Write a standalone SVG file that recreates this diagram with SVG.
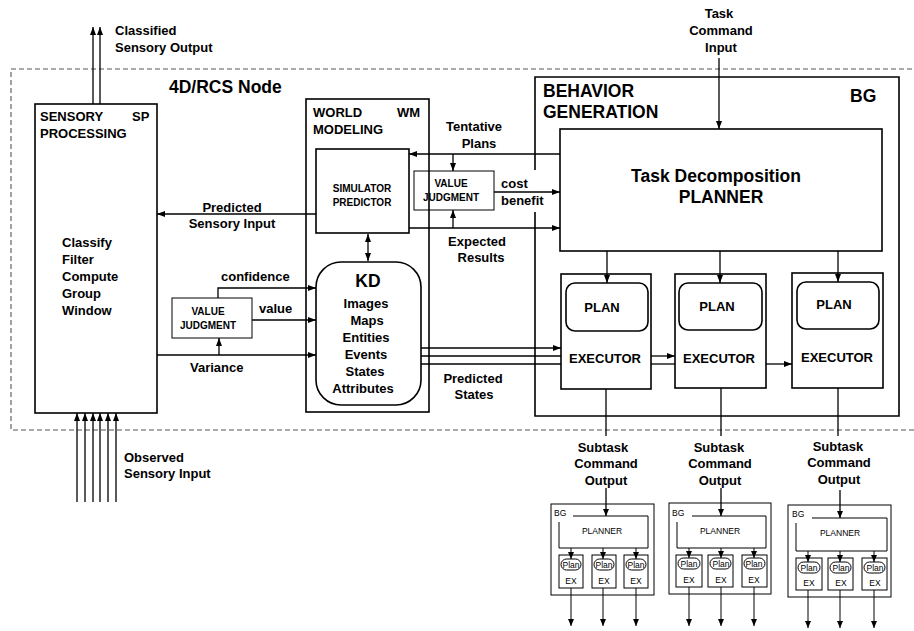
<svg xmlns="http://www.w3.org/2000/svg" width="914" height="631" viewBox="0 0 914 631">
<style>
text{font-family:"Liberation Sans",Arial,sans-serif;fill:#000}
.b13{font-size:13px;font-weight:bold}
.b17{font-size:17.5px;font-weight:bold}
.b10{font-size:10px;font-weight:bold}
.s8{font-size:8.5px}
.m{text-anchor:middle}
.box{fill:none;stroke:#000;stroke-width:1.6}
.sbox{fill:none;stroke:#000;stroke-width:1}
.ln{fill:none;stroke:#000;stroke-width:1.3}
.sl{fill:none;stroke:#000;stroke-width:1}
.dash{fill:none;stroke:#555;stroke-width:1.1;stroke-dasharray:5,3}
</style>
<defs>
<marker id="a" markerWidth="8" markerHeight="6" refX="8" refY="3" orient="auto-start-reverse" markerUnits="userSpaceOnUse"><path d="M0,0 L8,3 L0,6 z" fill="#000"/></marker>
<marker id="as" markerWidth="7" markerHeight="6" refX="7" refY="3" orient="auto" markerUnits="userSpaceOnUse"><path d="M0,0 L7,3 L0,6 z" fill="#000"/></marker>
</defs>
<rect width="914" height="631" fill="#fff"/>

<g id="rcs-node">
<path class="dash" d="M920,69 H11 V430 H920"/>
<text class="b17" x="169" y="93">4D/RCS Node</text>
</g>

<g id="sp">
<rect class="box" x="35" y="104" width="122" height="309"/>
<text class="b13" x="40" y="121">SENSORY</text>
<text class="b13" x="132" y="121">SP</text>
<text class="b13" x="40" y="138">PROCESSING</text>
<text class="b13" x="62" y="247">Classify</text>
<text class="b13" x="62" y="264">Filter</text>
<text class="b13" x="62" y="281">Compute</text>
<text class="b13" x="62" y="298">Group</text>
<text class="b13" x="62" y="315">Window</text>
</g>

<g id="vj1">
<rect class="sbox" x="172" y="298" width="80" height="40"/>
<text class="b10 m" x="208" y="315">VALUE</text>
<text class="b10 m" x="208" y="329">JUDGMENT</text>
</g>

<g id="wm">
<rect class="box" x="306" y="99" width="123" height="313"/>
<text class="b13" x="313" y="117">WORLD</text>
<text class="b13" x="397" y="117">WM</text>
<text class="b13" x="313" y="134">MODELING</text>
</g>

<g id="sim">
<rect class="box" x="316" y="149" width="93" height="84"/>
<text class="b10 m" x="362" y="192">SIMULATOR</text>
<text class="b10 m" x="362" y="206">PREDICTOR</text>
</g>

<g id="kd">
<rect class="box" x="316" y="262" width="105" height="143" rx="25"/>
<text class="b17 m" x="368" y="287">KD</text>
<text class="b13 m" x="366" y="308">Images</text>
<text class="b13 m" x="367" y="325">Maps</text>
<text class="b13 m" x="366" y="342">Entities</text>
<text class="b13 m" x="366" y="359">Events</text>
<text class="b13 m" x="365" y="376">States</text>
<text class="b13 m" x="363" y="393">Attributes</text>
</g>

<g id="vj2">
<rect class="sbox" x="414" y="171" width="80" height="39"/>
<text class="b10 m" x="451" y="187">VALUE</text>
<text class="b10 m" x="451" y="201">JUDGMENT</text>
</g>

<g id="bg">
<path class="box" d="M535,212 V416 H899 V77 H535 V170"/>
<text class="b17" x="543" y="97">BEHAVIOR</text>
<text class="b17" x="543" y="118">GENERATION</text>
<text class="b17" x="850" y="102">BG</text>
</g>

<g id="planner">
<rect class="box" x="560" y="129" width="322" height="122"/>
<text class="b17 m" x="716" y="182">Task Decomposition</text>
<text class="b17 m" x="721" y="203">PLANNER</text>
</g>

<g id="exec1">
<rect class="box" x="561" y="274" width="90" height="115"/>
<rect class="box" x="566" y="283" width="82" height="48" rx="9"/>
<text class="b13 m" x="602" y="312">PLAN</text>
<text class="b13 m" x="605" y="363">EXECUTOR</text>
</g>
<g id="exec2">
<rect class="box" x="675" y="274" width="91" height="114"/>
<rect class="box" x="679" y="283" width="83" height="47" rx="9"/>
<text class="b13 m" x="717" y="311">PLAN</text>
<text class="b13 m" x="719" y="363">EXECUTOR</text>
</g>
<g id="exec3">
<rect class="box" x="792" y="273" width="91" height="115"/>
<rect class="box" x="797" y="282" width="82" height="47" rx="9"/>
<text class="b13 m" x="834" y="309">PLAN</text>
<text class="b13 m" x="837" y="362">EXECUTOR</text>
</g>

<g id="sub-bg1">
<rect class="sbox" x="551" y="504" width="103" height="91"/>
<text class="s8" x="554" y="516">BG</text>
<path class="sl" d="M573,516 H648 V548 H559 V522"/>
<text class="s8 m" x="602" y="534">PLANNER</text>
<rect class="sbox" x="559" y="555" width="24" height="33"/>
<rect class="sbox" x="592" y="555" width="24" height="33"/>
<rect class="sbox" x="624" y="555" width="24" height="33"/>
<rect class="sbox" x="561" y="559" width="20" height="11" rx="5.5"/>
<rect class="sbox" x="594" y="559" width="20" height="11" rx="5.5"/>
<rect class="sbox" x="626" y="559" width="20" height="11" rx="5.5"/>
<text class="s8 m" x="571" y="568">Plan</text>
<text class="s8 m" x="604" y="568">Plan</text>
<text class="s8 m" x="636" y="568">Plan</text>
<text class="s8 m" x="571" y="584">EX</text>
<text class="s8 m" x="604" y="584">EX</text>
<text class="s8 m" x="636" y="584">EX</text>
</g>

<g id="sub-bg2">
<rect class="sbox" x="669" y="503" width="102" height="91"/>
<text class="s8" x="672" y="516">BG</text>
<path class="sl" d="M692,516 H766 V548 H677 V522"/>
<text class="s8 m" x="720" y="534">PLANNER</text>
<rect class="sbox" x="676" y="555" width="26" height="32"/>
<rect class="sbox" x="708" y="555" width="25" height="32"/>
<rect class="sbox" x="742" y="555" width="25" height="32"/>
<rect class="sbox" x="678" y="558" width="22" height="11" rx="5.5"/>
<rect class="sbox" x="710" y="558" width="21" height="11" rx="5.5"/>
<rect class="sbox" x="744" y="558" width="21" height="11" rx="5.5"/>
<text class="s8 m" x="689" y="567">Plan</text>
<text class="s8 m" x="721" y="567">Plan</text>
<text class="s8 m" x="754" y="567">Plan</text>
<text class="s8 m" x="689" y="583">EX</text>
<text class="s8 m" x="721" y="583">EX</text>
<text class="s8 m" x="754" y="583">EX</text>
</g>

<g id="sub-bg3">
<rect class="sbox" x="788" y="505" width="103" height="92"/>
<text class="s8" x="792" y="517">BG</text>
<path class="sl" d="M812,518 H887 V551 H796 V523"/>
<text class="s8 m" x="840" y="536">PLANNER</text>
<rect class="sbox" x="796" y="558" width="26" height="32"/>
<rect class="sbox" x="828" y="558" width="25" height="32"/>
<rect class="sbox" x="862" y="558" width="25" height="32"/>
<rect class="sbox" x="798" y="562" width="22" height="11" rx="5.5"/>
<rect class="sbox" x="830" y="562" width="21" height="11" rx="5.5"/>
<rect class="sbox" x="864" y="562" width="21" height="11" rx="5.5"/>
<text class="s8 m" x="809" y="571">Plan</text>
<text class="s8 m" x="841" y="571">Plan</text>
<text class="s8 m" x="875" y="571">Plan</text>
<text class="s8 m" x="809" y="586">EX</text>
<text class="s8 m" x="841" y="586">EX</text>
<text class="s8 m" x="875" y="586">EX</text>
</g>

<g id="connectors">
<!-- classified sensory output -->
<path class="ln" d="M93,104 V27" marker-end="url(#a)"/>
<path class="ln" d="M100,104 V27" marker-end="url(#a)"/>
<!-- observed sensory input -->
<path class="ln" d="M77,502 V413" marker-end="url(#a)"/>
<path class="ln" d="M85,502 V413" marker-end="url(#a)"/>
<path class="ln" d="M93,502 V413" marker-end="url(#a)"/>
<path class="ln" d="M100,502 V413" marker-end="url(#a)"/>
<path class="ln" d="M108,502 V413" marker-end="url(#a)"/>
<path class="ln" d="M116,502 V413" marker-end="url(#a)"/>
<!-- predicted sensory input -->
<path class="ln" d="M316,214 H157" marker-end="url(#a)"/>
<!-- value judgment 1 -->
<path class="ln" d="M218,298 V288 H316" marker-end="url(#a)"/>
<path class="ln" d="M252,320 H316" marker-end="url(#a)"/>
<path class="ln" d="M157,355 H316" marker-end="url(#a)"/>
<path class="ln" d="M219,355 V338" marker-end="url(#a)"/>
<!-- sim <-> kd -->
<path class="ln" d="M368,234 V261" marker-start="url(#a)" marker-end="url(#a)"/>
<!-- tentative plans -->
<path class="ln" d="M560,154 H409" marker-end="url(#a)"/>
<path class="ln" d="M453,154 V171" marker-end="url(#a)"/>
<!-- cost benefit -->
<path class="ln" d="M494,192 H560" marker-end="url(#a)"/>
<!-- expected results -->
<path class="ln" d="M409,228 H560" marker-end="url(#a)"/>
<path class="ln" d="M453,228 V210" marker-end="url(#a)"/>
<!-- predicted states -->
<path class="ln" d="M421,348 H561" marker-end="url(#a)"/>
<path class="ln" d="M421,356 H561"/>
<path class="ln" d="M421,364 H561"/>
<path class="ln" d="M651,356 H675" marker-end="url(#a)"/>
<path class="ln" d="M651,364 H675"/>
<path class="ln" d="M766,364 H792" marker-end="url(#a)"/>
<!-- task command input -->
<path class="ln" d="M719,58 V129" marker-end="url(#a)"/>
<!-- planner to plans -->
<path class="ln" d="M607,251 V283" marker-end="url(#a)"/>
<path class="ln" d="M720,251 V283" marker-end="url(#a)"/>
<path class="ln" d="M838,251 V282" marker-end="url(#a)"/>
<!-- executor outputs -->
<path class="ln" d="M606,389 V436"/>
<path class="ln" d="M721,388 V436"/>
<path class="ln" d="M838,388 V436"/>
<!-- subtask command into sub BGs -->
<path class="ln" d="M606,488 V516" marker-end="url(#as)"/>
<path class="ln" d="M721,488 V516" marker-end="url(#as)"/>
<path class="ln" d="M840,490 V518" marker-end="url(#as)"/>
<!-- sub planner to ex -->
<path class="sl" d="M571,548 V559" marker-end="url(#as)"/>
<path class="sl" d="M603,548 V559" marker-end="url(#as)"/>
<path class="sl" d="M636,548 V559" marker-end="url(#as)"/>
<path class="sl" d="M689,548 V558" marker-end="url(#as)"/>
<path class="sl" d="M721,548 V558" marker-end="url(#as)"/>
<path class="sl" d="M754,548 V558" marker-end="url(#as)"/>
<path class="sl" d="M808,551 V562" marker-end="url(#as)"/>
<path class="sl" d="M840,551 V562" marker-end="url(#as)"/>
<path class="sl" d="M874,551 V562" marker-end="url(#as)"/>
<!-- ex outputs -->
<path class="sl" d="M571,588 V626" marker-end="url(#as)"/>
<path class="sl" d="M603,588 V626" marker-end="url(#as)"/>
<path class="sl" d="M636,588 V626" marker-end="url(#as)"/>
<path class="sl" d="M689,587 V626" marker-end="url(#as)"/>
<path class="sl" d="M721,587 V626" marker-end="url(#as)"/>
<path class="sl" d="M754,587 V626" marker-end="url(#as)"/>
<path class="sl" d="M808,590 V628" marker-end="url(#as)"/>
<path class="sl" d="M840,590 V628" marker-end="url(#as)"/>
<path class="sl" d="M874,590 V628" marker-end="url(#as)"/>
</g>

<g id="labels">
<text class="b13" x="115" y="35">Classified</text>
<text class="b13" x="115" y="52">Sensory Output</text>
<text class="b13" x="124" y="462">Observed</text>
<text class="b13" x="124" y="478">Sensory Input</text>
<text class="b13 m" x="232" y="212">Predicted</text>
<text class="b13 m" x="232" y="228">Sensory Input</text>
<text class="b13" x="221" y="281">confidence</text>
<text class="b13" x="259" y="313">value</text>
<text class="b13" x="190" y="372">Variance</text>
<text class="b13 m" x="474" y="131">Tentative</text>
<text class="b13 m" x="479" y="148">Plans</text>
<text class="b13" x="501" y="188">cost</text>
<text class="b13" x="501" y="205">benefit</text>
<text class="b13 m" x="477" y="246">Expected</text>
<text class="b13 m" x="481" y="262">Results</text>
<text class="b13 m" x="473" y="383">Predicted</text>
<text class="b13 m" x="474" y="399">States</text>
<text class="b13 m" x="719" y="18">Task</text>
<text class="b13 m" x="721" y="35">Command</text>
<text class="b13 m" x="721" y="52">Input</text>
<text class="b13 m" x="603" y="452">Subtask</text>
<text class="b13 m" x="606" y="468">Command</text>
<text class="b13 m" x="606" y="485">Output</text>
<text class="b13 m" x="719" y="452">Subtask</text>
<text class="b13 m" x="720" y="468">Command</text>
<text class="b13 m" x="720" y="485">Output</text>
<text class="b13 m" x="838" y="451">Subtask</text>
<text class="b13 m" x="839" y="467">Command</text>
<text class="b13 m" x="839" y="484">Output</text>
</g>
</svg>
